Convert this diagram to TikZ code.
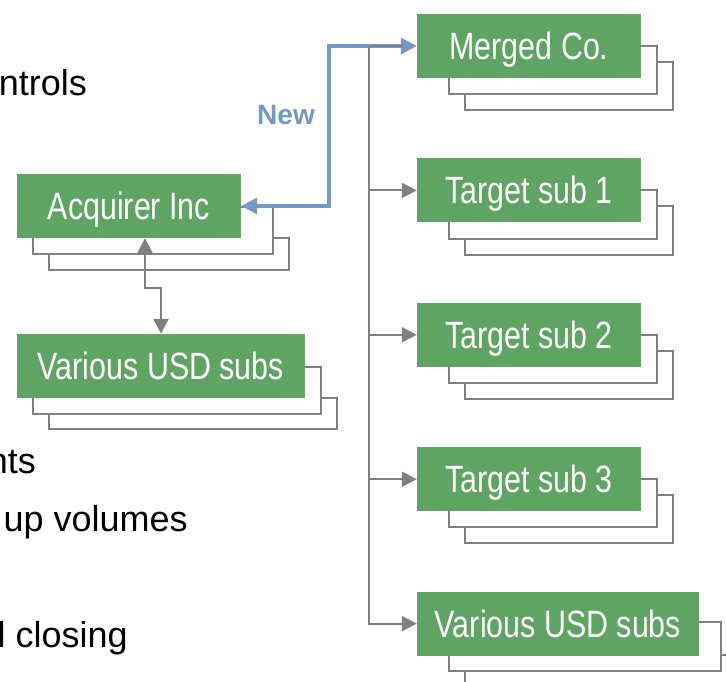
\documentclass[tikz,border=0pt]{standalone}
\usepackage{fontspec}
\setmainfont{Liberation Sans}
\newfontfamily\narrowfont[FakeStretch=0.8]{Liberation Sans}
\usepackage{tikz}
\usetikzlibrary{arrows.meta,positioning,calc,backgrounds}
\definecolor{entgreen}{HTML}{5FA463}
\definecolor{linegray}{HTML}{808080}
\definecolor{newblue}{HTML}{7399C4}
\newcommand{\boxfont}{\narrowfont\fontsize{38}{40}\selectfont}
\newcommand{\bulletfont}{\fontsize{36}{42}\selectfont}
\tikzset{
  entbox/.style={
    rectangle, fill=entgreen, text=white,
    minimum width=#1, minimum height=64pt,
    text height=27pt, text depth=0pt,
    inner sep=0pt, font=\boxfont
  },
  entbox/.default=224pt,
  stackline/.style={
    draw=linegray, fill=white, line width=2pt
  },
  feedline/.style={
    draw=linegray, line width=2.2pt, -{Triangle[length=15pt,width=15pt]}
  },
  newlink/.style={
    draw=newblue, line width=3.5pt,
    {Triangle[length=16pt,width=16pt]}-{Triangle[length=16pt,width=16pt]}
  },
  bullettext/.style={
    anchor=base east, inner sep=0pt, text=black, font=\bulletfont
  },
}
\begin{document}
\begin{tikzpicture}[x=1pt, y=-1pt]
  \useasboundingbox (0,0) rectangle (726,682);
  \clip (0,0) rectangle (726,682);

  % Cut-off bullet text on the left
  \node[bullettext] (b1) at (87,96) {ntrols};
  \node[bullettext] (b2) at (36,473) {nts};
  \node[bullettext] (b3) at (188,531) {up volumes};
  \node[bullettext] (b4) at (128,647) {l closing};

  % Acquirer side
  \node[entbox] (acq) at (129,206) {Acquirer Inc};
  \node[entbox=288pt] (usdl) at (161,366) {Various USD subs};

  % Target side
  \node[entbox] (merged) at (529,46) {Merged Co.};
  \node[entbox, below=80pt of merged] (tsub1) {Target sub 1};
  \node[entbox, below=80pt of tsub1] (tsub2) {Target sub 2};
  \node[entbox, below=80pt of tsub2] (tsub3) {Target sub 3};
  \node[entbox=282pt, anchor=north west] (usdr) at ([yshift=-80pt]tsub3.south west) {Various USD subs};

  % Stacked sheets behind the boxes
  \begin{scope}[on background layer]
    \draw[stackline] ($(acq.north west)+(32,64)$) rectangle ($(acq.south east)+(48,32)$);
    \draw[stackline] ($(acq.north west)+(16,33)$) rectangle ($(acq.south east)+(32,16)$);
    \draw[stackline] ($(usdl.north west)+(32,64)$) rectangle ($(usdl.south east)+(32,31)$);
    \draw[stackline] ($(usdl.north west)+(16,33)$) rectangle ($(usdl.south east)+(16,16)$);
    \foreach \b in {merged,tsub1,tsub2,tsub3} {
      \draw[stackline] ($(\b.north west)+(48,48)$) rectangle ($(\b.south east)+(32,32)$);
      \draw[stackline] ($(\b.north west)+(32,32)$) rectangle ($(\b.south east)+(16,16)$);
    }
    \draw[stackline] ($(usdr.north west)+(48,64)$) rectangle ($(usdr.south east)+(38,31)$);
    \draw[stackline] ($(usdr.north west)+(32,31)$) rectangle ($(usdr.south east)+(22,15)$);
  \end{scope}

  % New link
  \draw[newlink] (acq.east) -- ++(88,0) |- (merged.west);
  \node[font=\bfseries\fontsize{28}{30}\selectfont, text=newblue, anchor=base] (newlbl) at (286,125) {New};

  % Ownership lines
  \coordinate (trunk) at (369,46);
  \draw[draw=linegray, line width=2.2pt, shorten >=14pt] (trunk) -- (merged.west);
  \foreach \t in {tsub1,tsub2,tsub3,usdr}
    \draw[feedline] (trunk) |- (\t.west);
  \draw[feedline, {Triangle[length=15pt,width=15pt]}-{Triangle[length=15pt,width=15pt]}]
    ([xshift=16pt]acq.south) -- ++(0,50) -| (usdl.north);
\end{tikzpicture}
\end{document}
